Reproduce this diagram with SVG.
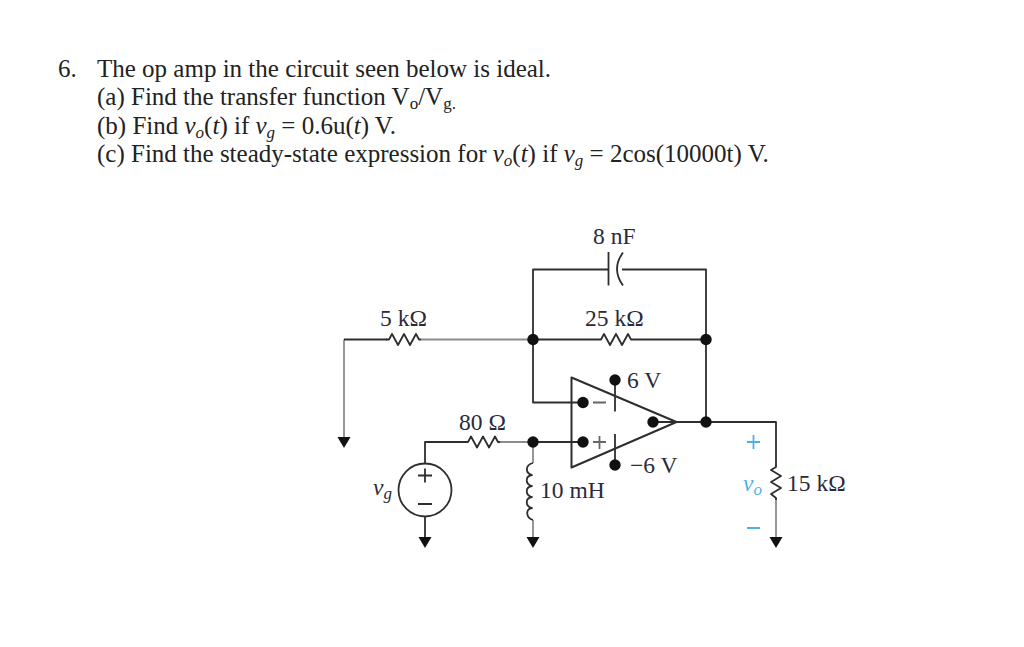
<svg xmlns="http://www.w3.org/2000/svg" width="1024" height="647" viewBox="0 0 1024 647">
<style>
text{font-family:"Liberation Serif","Times New Roman",serif;fill:#222}
.q{font-size:25px}
.l{font-size:23.5px;fill:#2a2a3a}
.i{font-style:italic}
.b{fill:#4fb0e8}
.w{fill:none;stroke:#2e2e2e;stroke-width:1.8;stroke-linejoin:round}
.g{fill:none;stroke:#8c8c8c;stroke-width:1.8}
.d{fill:#111}
</style>
<defs>
<path id="gnd" class="d" d="M-6.500 0H6.500L0 11Z"/>
<path id="res" class="w" d="M0 0L3 0L6 -5.500L12 5.500L18 -5.500L24 5.500L30 -5.500L33 0L35 0"/>
</defs>
<rect width="1024" height="647" fill="#fff"/>
<g id="question">
<text class="q" x="58" y="76.500">6.</text>
<text class="q" x="97" y="76.500">The op amp in the circuit seen below is ideal.</text>
<text class="q" x="97" y="105">(a) Find the transfer function V<tspan font-size="17" dy="4">o</tspan><tspan dy="-4">/V</tspan><tspan font-size="17" dy="4">g.</tspan></text>
<text class="q" x="97" y="133.500">(b) Find <tspan class="i">v</tspan><tspan class="i" font-size="17" dy="4">o</tspan><tspan dy="-4">(</tspan><tspan class="i">t</tspan>) if <tspan class="i">v</tspan><tspan class="i" font-size="17" dy="4">g</tspan><tspan dy="-4"> = 0.6u(</tspan><tspan class="i">t</tspan>) V.</text>
<text class="q" x="97" y="162">(c) Find the steady-state expression for <tspan class="i">v</tspan><tspan class="i" font-size="17" dy="4">o</tspan><tspan dy="-4">(</tspan><tspan class="i">t</tspan>) if <tspan class="i">v</tspan><tspan class="i" font-size="17" dy="4">g</tspan><tspan dy="-4"> = 2cos(10000t) V.</tspan></text>
</g>
<g id="connectors">
<path class="g" d="M344 437V339.500"/>
<path class="w" d="M344 339.500H387"/>
<path class="g" d="M421 339.500H533"/>
<path class="w" d="M533 339.500H598M633 339.500H706"/>
<path class="w" d="M608 269.500H533V402.500H583"/>
<path class="w" d="M622 269.500H706V422"/>
<path class="w" d="M425 464V442H465"/>
<path class="g" d="M500 442H533"/>
<path class="w" d="M533 442H583"/>
<path class="g" d="M533 442V463"/>
<path class="g" d="M533 520V537"/>
<path class="w" d="M425 516V537"/>
<path class="w" d="M653 422H706H776V466"/>
<path class="g" d="M776 499V537"/>
<path class="w" d="M615 380V411.500M615 434V465"/>
</g>
<g id="r5k"><use href="#res" x="386" y="339.500"/><text class="l" x="380" y="326">5 kΩ</text></g>
<g id="r25k"><use href="#res" x="598" y="339.500"/><text class="l" x="585" y="326">25 kΩ</text></g>
<g id="c8n">
<path class="w" d="M608.500 252V285.500"/>
<path class="w" d="M623 252.500Q611 269 623 285.500"/>
<text class="l" x="593" y="244">8 nF</text>
</g>
<g id="r80"><use href="#res" x="465" y="442"/><text class="l" x="459" y="430">80 Ω</text></g>
<g id="source">
<circle class="w" cx="425" cy="490" r="26.500"/>
<path class="w" d="M418 475.500H432M425 468.500V482.500M418 504H432"/>
<text class="l i" x="373" y="495" font-size="25">v<tspan font-size="17" dy="4">g</tspan></text>
</g>
<g id="inductor">
<path class="w" d="M533 463C525 465 525 473 532 475C525 476 525 484 532 486C525 487 525 495 532 497C525 498 525 506 532 508C525 509 526 518 533 520"/>
<text class="l" x="540" y="498">10 mH</text>
</g>
<g id="opamp">
<path class="w" style="stroke-width:2" d="M571.500 377.500L676.500 422L571.500 467.500Z"/>
<circle class="d" cx="583" cy="402.500" r="5.700"/>
<circle class="d" cx="583" cy="442" r="5.700"/>
<circle class="d" cx="653" cy="422" r="5.700"/>
<circle class="d" cx="615" cy="380" r="5.700"/>
<circle class="d" cx="615" cy="465" r="5.700"/>
<path class="w" style="stroke:#666" d="M593 402.500H606M593 442H606M599.500 436V449"/>
<text class="l" x="627" y="388">6 V</text>
<text class="l" x="630" y="473">−6 V</text>
</g>
<g id="r15k">
<path class="w" d="M776 465V467L771 470L781 476L771 482L781 488L771 494L776 498V500"/>
<text class="l" x="787" y="491">15 kΩ</text>
<text class="l i b" x="743" y="491" font-size="25">v<tspan font-size="17" dy="4">o</tspan></text>
<path fill="none" stroke="#4fb0e8" stroke-width="1.800" d="M747 442H760M753.500 435V449M747 528H760"/>
</g>
<g id="nodes">
<circle class="d" cx="533" cy="339.500" r="5.700"/>
<circle class="d" cx="706" cy="339.500" r="5.700"/>
<circle class="d" cx="706" cy="422" r="5.700"/>
<circle class="d" cx="533" cy="442" r="5.700"/>
<use href="#gnd" x="344" y="437"/>
<use href="#gnd" x="425" y="537"/>
<use href="#gnd" x="533" y="537"/>
<use href="#gnd" x="776" y="537"/>
</g>
</svg>
